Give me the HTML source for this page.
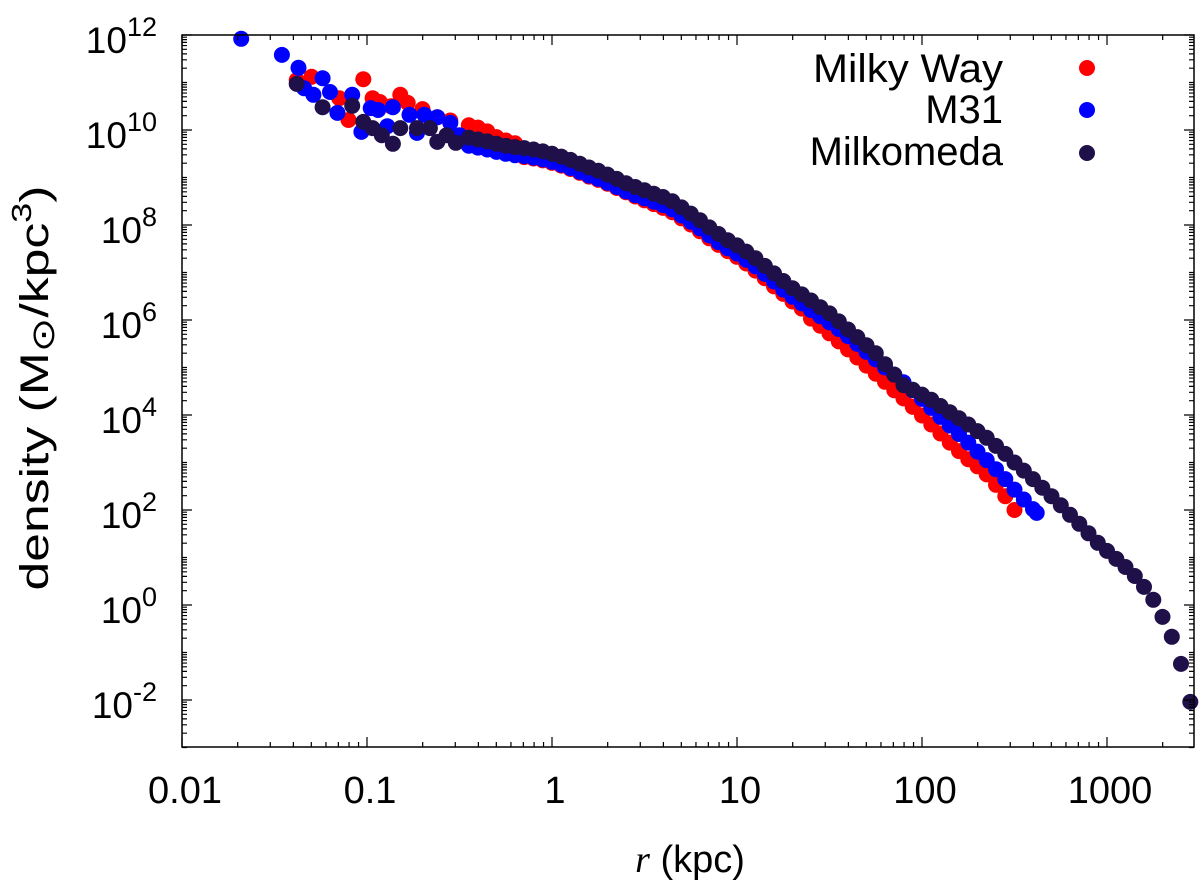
<!DOCTYPE html>
<html><head><meta charset="utf-8"><style>
html,body{margin:0;padding:0;background:#fff}
svg{display:block;font-family:"Liberation Sans",sans-serif}
</style></head><body>
<svg id="chart" width="1200" height="883" viewBox="0 0 1200 883" xmlns="http://www.w3.org/2000/svg">
<rect width="1200" height="883" fill="#fff"/>
<g id="marks"></g>
<g id="axes"></g>
<g id="legend">
<text x="1003" y="82" font-size="40" text-anchor="end" textLength="190" lengthAdjust="spacingAndGlyphs">Milky Way</text>
<circle cx="1087" cy="68" r="8" fill="#ff0000"/>
<text x="1003" y="123" font-size="40" text-anchor="end">M31</text>
<circle cx="1087" cy="110" r="8" fill="#0000ff"/>
<text x="1003" y="165" font-size="40" text-anchor="end">Milkomeda</text>
<circle cx="1087" cy="153" r="8" fill="#20104a"/>
</g>
<text x="690" y="872" font-size="38" text-anchor="middle"><tspan font-family="Liberation Serif,serif" font-style="italic">r</tspan> (kpc)</text>
<text transform="translate(48,388) rotate(-90)" font-size="40" text-anchor="middle" textLength="405" lengthAdjust="spacingAndGlyphs">density (M<tspan font-size="32" dy="6">⊙</tspan><tspan dy="-6">/kpc</tspan><tspan font-size="28" dy="-17">3</tspan><tspan dy="17">)</tspan></text>
</svg>
<script>
// log10 of radius (kpc) and log10 of density (Msun/kpc^3)
const mwLogR = [-1.38,-1.30,-1.15,-1.10,-1.02,-0.97,-0.93,-0.87,-0.82,-0.78,-0.70,-0.62,-0.55,
-0.45,-0.40,-0.35,-0.30,-0.25,-0.20,-0.15,-0.10,-0.05,0.00,0.05,0.10,0.15,0.20,0.25,0.30,0.35,0.40,0.45,0.50,0.55,0.60,0.65,0.70,0.75,0.80,0.85,0.90,0.95,1.00,1.05,1.10,1.15,1.20,1.25,1.30,1.35,1.40,1.45,1.50,1.55,1.60,1.65,1.70,1.75,1.80,1.85,1.90,1.95,2.00,2.05,2.10,2.15,2.20,2.25,2.30,2.35,2.40,2.45,2.50];
const mwLogRho = [11.05,11.12,10.67,10.21,11.07,10.67,10.59,10.50,10.74,10.57,10.44,10.27,10.20,
10.10,10.05,9.97,9.85,9.78,9.72,9.43,9.40,9.36,9.31,9.25,9.18,9.10,9.02,8.95,8.87,8.78,8.69,8.60,8.52,8.44,8.36,8.27,8.14,8.01,7.87,7.72,7.58,7.45,7.33,7.19,7.04,6.88,6.71,6.55,6.39,6.24,6.03,5.88,5.72,5.55,5.38,5.21,5.04,4.87,4.70,4.52,4.35,4.17,3.99,3.80,3.61,3.42,3.24,3.07,2.92,2.75,2.53,2.29,2.00];
const m31LogR = [-1.68,-1.46,-1.37,-1.34,-1.29,-1.24,-1.20,-1.16,-1.08,-1.03,-0.98,-0.94,-0.89,-0.86,-0.77,-0.73,-0.69,-0.62,-0.55,-0.50,
-0.45,-0.40,-0.35,-0.30,-0.25,-0.20,-0.15,-0.10,-0.05,0.00,0.05,0.10,0.15,0.20,0.25,0.30,0.35,0.40,0.45,0.50,0.55,0.60,0.65,0.70,0.75,0.80,0.85,0.90,0.95,1.00,1.05,1.10,1.15,1.20,1.25,1.30,1.35,1.40,1.45,1.50,1.55,1.60,1.65,1.70,1.75,1.80,1.85,1.90,1.95,2.00,2.05,2.10,2.15,2.20,2.25,2.30,2.35,2.40,2.45,2.50,2.55,2.60,2.62];
const m31LogRho = [11.92,11.58,11.31,10.88,10.74,11.09,10.80,10.36,10.74,9.96,10.46,10.42,10.08,10.48,10.32,9.94,10.32,10.27,10.15,9.89,
9.67,9.63,9.59,9.54,9.50,9.47,9.45,9.42,9.38,9.33,9.27,9.20,9.12,9.04,8.97,8.89,8.80,8.71,8.63,8.56,8.49,8.42,8.33,8.20,8.07,7.93,7.78,7.64,7.51,7.40,7.27,7.13,6.97,6.81,6.64,6.49,6.35,6.21,6.08,5.95,5.81,5.66,5.50,5.33,5.17,5.00,4.85,4.69,4.52,4.34,4.15,3.96,3.78,3.60,3.42,3.23,3.05,2.86,2.65,2.43,2.22,2.02,1.94];
const mkLogR = [-1.38,-1.24,-1.08,-1.02,-0.97,-0.92,-0.86,-0.82,-0.73,-0.66,-0.62,-0.57,-0.52,
-0.45,-0.40,-0.35,-0.30,-0.25,-0.20,-0.15,-0.10,-0.05,0.00,0.05,0.10,0.15,0.20,0.25,0.30,0.35,0.40,0.45,0.50,0.55,0.60,0.65,0.70,0.75,0.80,0.85,0.90,0.95,1.00,1.05,1.10,1.15,1.20,1.25,1.30,1.35,1.40,1.45,1.50,1.55,1.60,1.65,1.70,1.75,1.80,1.85,1.90,1.95,2.00,2.05,2.10,2.15,2.20,2.25,2.30,2.35,2.40,2.45,2.50,2.55,2.60,2.65,2.70,2.75,2.80,2.85,2.90,2.95,3.00,3.05,3.10,3.15,3.20,3.25,3.30,3.35,3.40,3.45];
const mkLogRho = [10.97,10.48,10.51,10.17,10.04,9.89,9.71,10.04,10.04,10.04,9.75,9.89,9.73,
9.84,9.80,9.76,9.71,9.67,9.64,9.62,9.59,9.55,9.50,9.44,9.37,9.29,9.21,9.14,9.06,8.97,8.88,8.80,8.73,8.66,8.59,8.50,8.37,8.24,8.10,7.95,7.81,7.68,7.57,7.44,7.30,7.14,6.98,6.82,6.67,6.54,6.41,6.27,6.14,5.97,5.80,5.64,5.47,5.30,5.07,4.85,4.63,4.53,4.43,4.32,4.19,4.06,3.93,3.80,3.66,3.52,3.35,3.18,3.00,2.83,2.65,2.47,2.29,2.10,1.90,1.71,1.51,1.31,1.14,0.97,0.80,0.61,0.38,0.11,-0.25,-0.67,-1.24,-2.04];
const xTickLabels = ["0.01","0.1","1","10","100","1000"];
const yTickExps = [12,10,8,6,4,2,0,-2];

const NS = "http://www.w3.org/2000/svg";
const L = 182, R = 1194, T = 35, B = 747;
const XMIN = -2, XDEC = 185;
const YMAX = 12, YDEC = 47.5;
function xs(lr){ return L + (lr - XMIN) * XDEC; }
function ys(lrho){ return T + (YMAX - lrho) * YDEC; }
function mk(tag, attrs, parent){ const e = document.createElementNS(NS, tag); for (const k in attrs) e.setAttribute(k, attrs[k]); parent.appendChild(e); return e; }

const marks = document.getElementById('marks');
function drawSeries(lr, lrho, color, name){
  const g = mk('g', {fill: color}, marks);
  
  
  for (let i = 0; i < lr.length; i++){
    const c = mk('circle', {cx: xs(lr[i]).toFixed(1), cy: ys(lrho[i]).toFixed(1), r: 8}, g);
    
    
  }
}
drawSeries(mwLogR, mwLogRho, '#ff0000', 'milky-way');
drawSeries(m31LogR, m31LogRho, '#0000ff', 'm31');
drawSeries(mkLogR, mkLogRho, '#20104a', 'milkomeda');

const axes = document.getElementById('axes');
const frame = mk('rect', {x: L, y: T, width: R - L, height: B - T, fill: 'none', stroke: '#000', 'stroke-width': 1.5}, axes);


let d = '';
for (let dec = -2; dec <= 3; dec++){
  for (let m = 1; m <= 9; m++){
    const lr = dec + Math.log10(m);
    const x = xs(lr);
    if (x > R) continue;
    const len = m === 1 ? 10 : 5;
    d += `M${x},${B}v${-len}M${x},${T}v${len}`;
  }
}
for (let dec = -3; dec <= 11; dec++){
  for (let m = 1; m <= 9; m++){
    const lv = dec + Math.log10(m);
    const y = ys(lv);
    if (y < T - 0.5 || y > B + 0.5) continue;
    const len = (m === 1 && dec % 2 === 0) ? 10 : 5;
    d += `M${L},${y}h${len}M${R},${y}h${-len}`;
  }
}
d += `M${L},${ys(12)}h10M${R},${ys(12)}h-10`;
const ticks = mk('path', {d: d, stroke: '#000', 'stroke-width': 1.2, fill: 'none'}, axes);



xTickLabels.forEach((lab, i) => {
  const t = mk('text', {x: xs(-2 + i) + 3, y: 803, 'font-size': 38, 'text-anchor': 'middle'}, axes);
  t.textContent = lab;
  
  
});
yTickExps.forEach(e => {
  const t = mk('text', {x: 157, y: ys(e) + 18, 'font-size': 37, 'text-anchor': 'end'}, axes);
  const a = document.createElementNS(NS, 'tspan'); a.textContent = '10'; t.appendChild(a);
  const b = document.createElementNS(NS, 'tspan'); b.setAttribute('font-size', '27'); b.setAttribute('dy', '-17'); b.textContent = String(e); t.appendChild(b);
  
  
});
</script>
</body></html>
